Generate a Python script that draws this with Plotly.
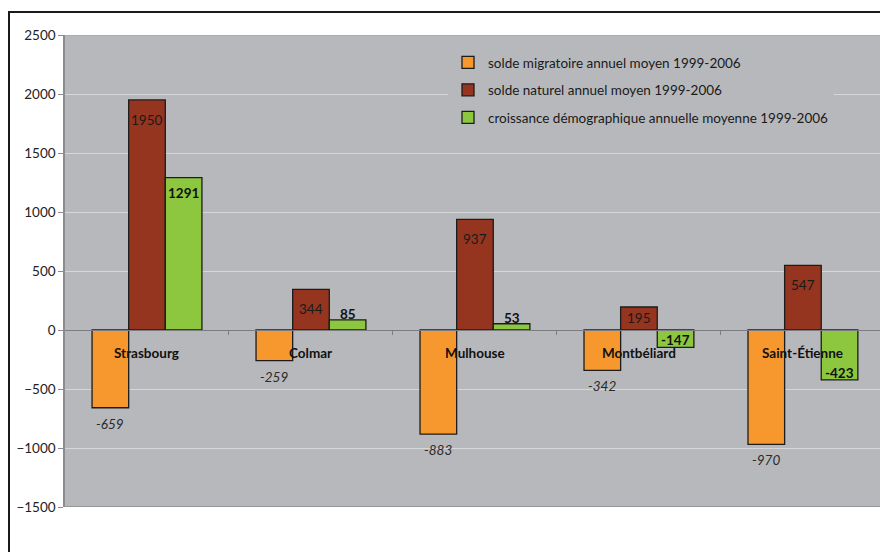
import plotly.graph_objects as go

# Données : soldes annuels moyens 1999-2006 par aire urbaine
villes = ["Strasbourg", "Colmar", "Mulhouse", "Montbéliard", "Saint-Étienne"]
solde_migratoire = [-659, -259, -883, -342, -970]
solde_naturel = [1950, 344, 937, 195, 547]
croissance = [1291, 85, 53, -147, -423]

noms = [
    "solde migratoire annuel moyen 1999-2006",
    "solde naturel annuel moyen 1999-2006",
    "croissance démographique annuelle moyenne 1999-2006",
]
couleurs = ["#F7982E", "#953520", "#8DC73F"]

Y_MIN, Y_MAX = -1500, 2500
FONT = "Lato"
PLOT_H = 472  # hauteur de la zone de tracé en px
PX_PER_UNIT = PLOT_H / (Y_MAX - Y_MIN)

BARGAP = 0.33
bar_w = (1 - BARGAP) / 3

fig = go.Figure()
series = [solde_migratoire, solde_naturel, croissance]
for k, (vals, nom, col) in enumerate(zip(series, noms, couleurs)):
    fig.add_trace(go.Bar(
        x=list(range(len(villes))), y=vals, name=nom,
        marker=dict(color=col, line=dict(color="#1c1c1c", width=1.3)),
        legendgroup=f"g{k}",
    ))

annotations = []
# étiquettes des villes, posées sur l'axe zéro
for i, v in enumerate(villes):
    annotations.append(dict(x=i, y=0, text=f"<b>{v}</b>", showarrow=False,
                            yshift=-23, font=dict(family=FONT, size=13.5, color="#111")))

# étiquettes de valeurs
for i, v in enumerate(solde_migratoire):
    annotations.append(dict(x=i - bar_w, y=v, text=f"<i>{v}</i>", showarrow=False,
                            yshift=-16, font=dict(family=FONT, size=13.5, color="#2a2a2a")))
for i, v in enumerate(solde_naturel):
    h = v * PX_PER_UNIT
    annotations.append(dict(x=i, y=v, text=str(v), showarrow=False,
                            yshift=-min(20, h / 2), font=dict(family=FONT, size=13.5, color="#1a1a1a")))
for i, v in enumerate(croissance):
    h = abs(v) * PX_PER_UNIT
    if v >= 0:
        shift = -15 if h > 30 else 6
    else:
        shift = 7
    annotations.append(dict(x=i + bar_w, y=v, text=f"<b>{v}</b>", showarrow=False,
                            yshift=shift, font=dict(family=FONT, size=13.5, color="#111")))

L, T, B = 65, 35, 45
W, H = 880, 552
plot_w = W - L
shapes = [
    # cadre extérieur du graphique
    dict(type="rect", xref="paper", yref="paper",
         x0=(9 - L) / plot_w, x1=1.1, y0=-0.2, y1=1 + (T - 12) / PLOT_H,
         line=dict(color="#1a1a1a", width=2), layer="above"),
    # bordures basse et haute de la zone de tracé
    dict(type="line", xref="paper", yref="y", x0=0, x1=1, y0=Y_MIN, y1=Y_MIN,
         line=dict(color="#8c8c8e", width=1.5)),
    dict(type="line", xref="paper", yref="y", x0=0, x1=1, y0=Y_MAX, y1=Y_MAX,
         line=dict(color="#a0a0a3", width=1.2)),
]

fig.update_layout(
    width=W, height=H,
    margin=dict(l=L, r=0, t=T, b=B),
    paper_bgcolor="white",
    plot_bgcolor="#B7B8BC",
    barmode="group", bargap=BARGAP, bargroupgap=0,
    font=dict(family=FONT, size=13.5, color="#222"),
    showlegend=True,
    legend=dict(x=(448 - L) / plot_w, y=1 - (47 - T) / PLOT_H,
                xanchor="left", yanchor="top",
                bgcolor="#B7B8BC", font=dict(family=FONT, size=13.5, color="#1a1a1a"),
                itemwidth=30, tracegroupgap=7, traceorder="grouped"),
    xaxis=dict(
        range=[-0.5, 4.47], anchor="free",
        position=(0 - Y_MIN) / (Y_MAX - Y_MIN),
        showline=True, linecolor="#7c7c80", linewidth=1.2,
        showgrid=False, zeroline=False,
        tickvals=[0.5, 1.5, 2.5, 3.5], ticks="outside", ticklen=4,
        tickcolor="#7c7c80", showticklabels=False,
    ),
    yaxis=dict(
        range=[Y_MIN, Y_MAX], dtick=500, tick0=0,
        showgrid=True, gridcolor="#D6D7DA", gridwidth=1,
        zeroline=False,
        showline=True, linecolor="#8c8c8e", linewidth=1.5,
        ticks="outside", ticklen=5, tickcolor="#8c8c8e",
        tickfont=dict(family=FONT, size=13.5, color="#222"),
    ),
    annotations=annotations,
    shapes=shapes,
)

fig.write_html("out.html")
